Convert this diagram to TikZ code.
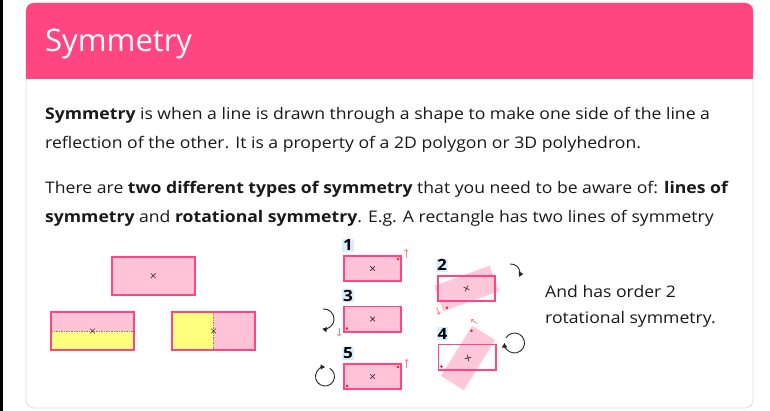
\documentclass[tikz,border=0pt]{standalone}
\usepackage{fontspec}
\setmainfont{Open Sans}[FakeStretch=1.1]
\newfontfamily\titlefont{Open Sans}
\usetikzlibrary{positioning,shapes.misc,arrows.meta,calc}

\definecolor{headpink}{RGB}{255,70,128}
\definecolor{boxpink}{RGB}{255,194,214}
\definecolor{halfyellow}{RGB}{255,255,128}
\definecolor{tagblue}{RGB}{221,236,252}
\definecolor{dotred}{RGB}{238,24,36}
\definecolor{flickred}{RGB}{255,130,140}
\definecolor{cardgray}{RGB}{222,222,222}

\begin{document}
\begin{tikzpicture}[
  x=1pt, y=-1pt,
  bodytext/.style={anchor=base west, inner sep=0pt, font=\fontsize{16}{20}\selectfont, text=black!90},
  bigbox/.style={rectangle, draw=headpink, fill=boxpink, line width=2pt, minimum width=83pt, minimum height=38pt, inner sep=0pt},
  smallbox/.style={rectangle, draw=headpink, fill=boxpink, line width=1.6pt, minimum width=57.4pt, minimum height=25.4pt, inner sep=0pt},
  ghost/.style={smallbox, fill=none},
  turned/.style={rectangle, fill=boxpink, fill opacity=0.9, minimum width=59pt, minimum height=27pt, inner sep=0pt},
  centre/.style={cross out, draw=black!80, line width=0.7pt, minimum size=4pt, inner sep=0pt},
  tag/.style={fill=tagblue, inner sep=1pt, font=\bfseries\fontsize{15.5}{15.5}\selectfont, anchor=south west},
  dot/.style={circle, fill=dotred, inner sep=0pt, minimum size=2.8pt},
  flick/.style={-{Straight Barb[length=1.8pt]}, draw=flickred, line width=0.8pt},
  turn/.style={-{Triangle[length=4.5pt,width=5pt]}, line width=0.9pt, draw=black!85},
  fold/.style={draw=black!50, line width=0.7pt, dash pattern=on 1.5pt off 1pt},
]
\useasboundingbox (0,0) rectangle (770,411);
\fill[white] (0,0) rectangle (770,411);

% ══ Card and header ══
\draw[line width=3pt] (1.5,0) -- (1.5,411);
\draw[cardgray, line width=0.8pt, fill=white, rounded corners=8pt] (26,3) rectangle (753,408);
\fill[headpink, rounded corners=8pt] (26,3) rectangle (753,79);
\fill[headpink] (26,60) rectangle (753,79);
\node[anchor=base west, inner sep=0pt, text=white, font=\titlefont\fontsize{31}{31}\selectfont] (title) at (45,52) {Symmetry};

% ══ Body text ══
\node[bodytext] (line1) at (45,120) {\textbf{Symmetry} is when a line is drawn through a shape to make one side of the line a};
\node[bodytext] (line2) at (45,148.5) {reflection of the other. It is a property of a 2D polygon or 3D polyhedron.};
\node[bodytext] (line3) at (45,194) {There are \textbf{two different types of symmetry} that you need to be aware of: \textbf{lines of}};
\node[bodytext] (line4) at (45,222.5) {\textbf{symmetry} and \textbf{rotational symmetry}. E.g. A rectangle has two lines of symmetry};

% ══ Lines of symmetry (left) ══
\node[bigbox] (whole) at (153.2,275.7) {};
\node[centre] at (whole.center) {};

\node[bigbox, path picture={
    \fill[halfyellow] (path picture bounding box.west) rectangle (path picture bounding box.south east);
    \draw[fold] (path picture bounding box.west) -- (path picture bounding box.east);}] (across) at (92.5,331) {};
\node[centre] at (across.center) {};

\node[bigbox, path picture={
    \fill[halfyellow] (path picture bounding box.south west) rectangle (path picture bounding box.north);
    \draw[fold] (path picture bounding box.north) -- (path picture bounding box.south);}] (down) at (213.5,331) {};
\node[centre] at (down.center) {};

% ══ Rotational symmetry, column 1 ══
\node[smallbox] (r1) at (372.5,268.5) {};
\node[centre] at (r1.center) {};
\node[tag] (t1) at ([shift={(-1pt,3pt)}]r1.north west) {1};
\node[dot] at ([shift={(-4pt,-4pt)}]r1.north east) {};
\draw[flick] ([shift={(4pt,-3pt)}]r1.north east) -- ([shift={(4pt,6pt)}]r1.north east);

\node[smallbox] (r3) at (372.5,319) {};
\node[centre] at (r3.center) {};
\node[tag] (t3) at ([shift={(-1pt,3pt)}]r3.north west) {3};
\node[dot] at ([shift={(4pt,4pt)}]r3.south west) {};
\draw[flick] ([shift={(-4pt,5pt)}]r3.south west) -- ([shift={(-4pt,-4pt)}]r3.south west);
\draw[turn] ([xshift=-19pt]r3.west) ++(-95:10) arc[start angle=-95, end angle=100, radius=10];

\node[smallbox] (r5) at (372.5,376.5) {};
\node[centre] at (r5.center) {};
\node[tag] (t5) at ([shift={(-1pt,3pt)}]r5.north west) {5};
\node[dot] at ([shift={(-4pt,-4pt)}]r5.north east) {};
\node[dot] at ([shift={(4pt,4pt)}]r5.south west) {};
\draw[flick] ([shift={(4.5pt,-5pt)}]r5.north east) -- ([shift={(4.5pt,4pt)}]r5.north east);
\draw[turn] ([xshift=-18pt]r5.west) ++(-60:9.5) arc[start angle=-60, end angle=270, radius=9.5];

% ══ Rotational symmetry, column 2 ══
\node[turned, rotate=20] (q2) at (466.5,288.5) {};
\node[ghost] (g2) at (466.5,288.5) {};
\node[centre, rotate=20] at (q2.center) {};
\node[tag] (t2) at ([shift={(-1pt,3pt)}]g2.north west) {2};
\node[dot] at ($(q2.south west)!0.08!(q2.north east)$) {};
\draw[flick] ([shift={(-6.4pt,4.3pt)}]q2.south west) -- ([shift={(-3.9pt,-3.2pt)}]q2.south west);
\draw[turn] ([shift={(15pt,15.5pt)}]g2.east) ++(-95:9) arc[start angle=-95, end angle=25, radius=9];

\node[turned, rotate=58] (q4) at (468,358) {};
\node[ghost] (g4) at (467,357) {};
\node[centre, rotate=58] at (q4.center) {};
\node[tag] (t4) at ([shift={(-1pt,3pt)}]g4.north west) {4};
\node[dot] at ($(q4.north east)!0.08!(q4.south west)$) {};
\node[dot] at ([shift={(4pt,4pt)}]g4.south west) {};
\draw[flick] ([shift={(5.2pt,1.8pt)}]q4.north east) -- ([shift={(-1.3pt,6.1pt)}]q4.north east);
\draw[turn] ([shift={(18pt,14pt)}]g4.east) ++(-150:10) arc[start angle=-150, end angle=180, radius=10];

% ══ Order note ══
\node[bodytext] (order1) at (545,297.5) {And has order 2};
\node[bodytext] (order2) at (545,323.5) {rotational symmetry.};

\end{tikzpicture}
\end{document}
